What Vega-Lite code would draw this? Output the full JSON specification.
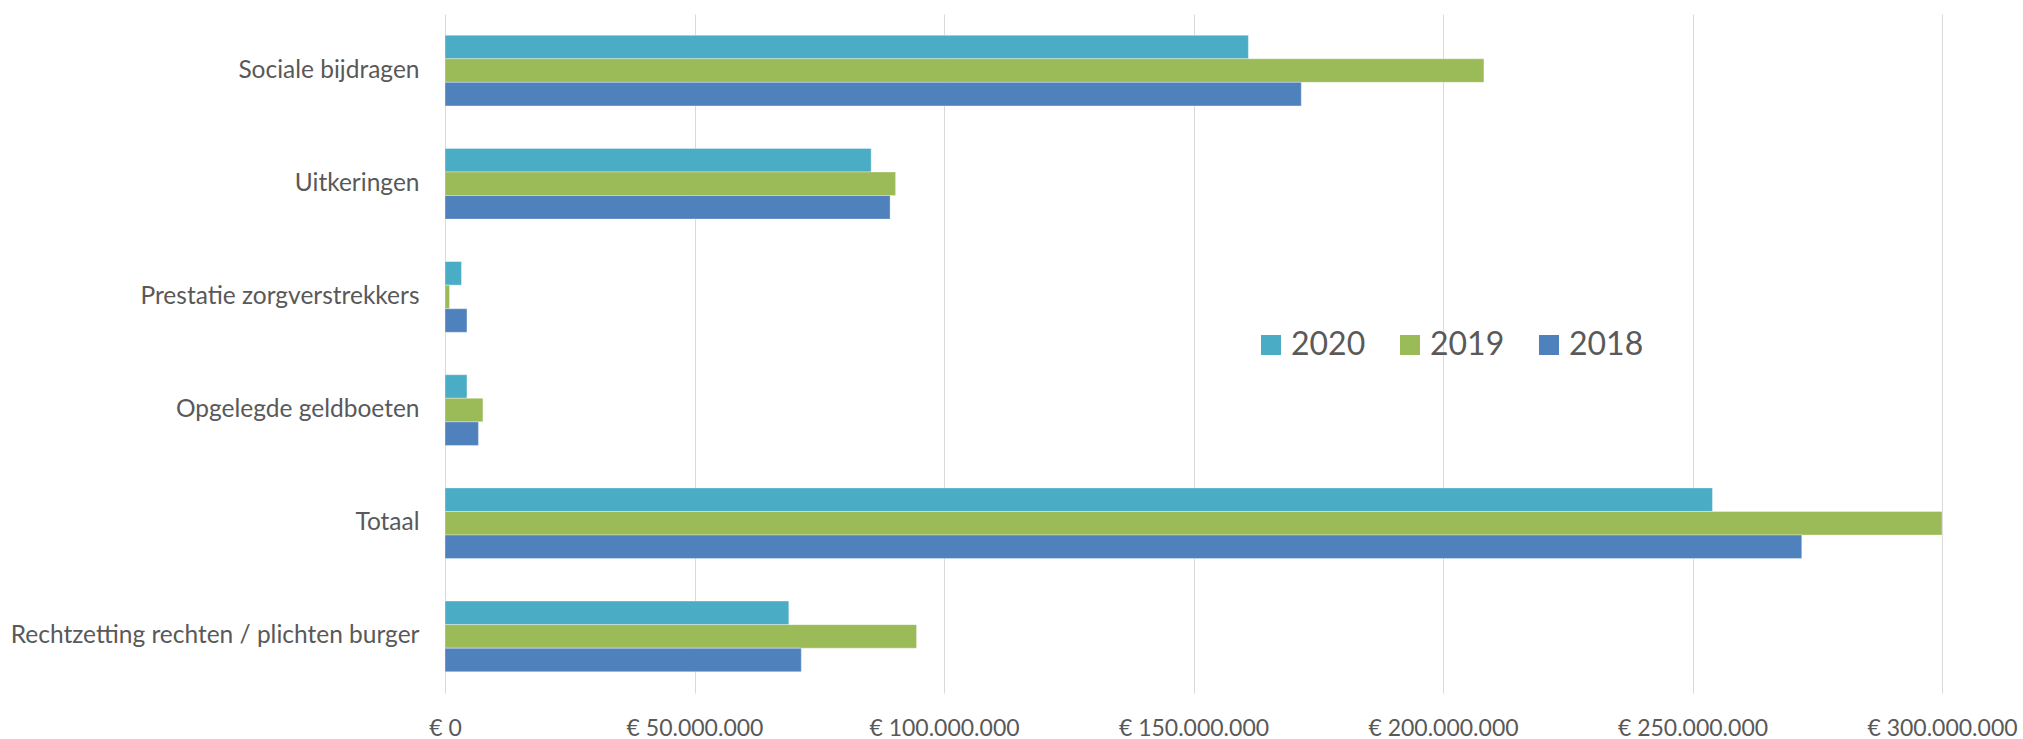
{
  "$schema": "https://vega.github.io/schema/vega-lite/v6.json",
  "width": 1497,
  "height": 679,
  "autosize": {"type": "none"},
  "padding": {"left": 445, "top": 14, "right": 81, "bottom": 46},
  "background": "#ffffff",
  "data": {
    "values": [
      {"categorie": "Sociale bijdragen", "jaar": "2020", "bedrag": 161000000},
      {"categorie": "Sociale bijdragen", "jaar": "2019", "bedrag": 208200000},
      {"categorie": "Sociale bijdragen", "jaar": "2018", "bedrag": 171600000},
      {"categorie": "Uitkeringen", "jaar": "2020", "bedrag": 85400000},
      {"categorie": "Uitkeringen", "jaar": "2019", "bedrag": 90300000},
      {"categorie": "Uitkeringen", "jaar": "2018", "bedrag": 89200000},
      {"categorie": "Prestatie zorgverstrekkers", "jaar": "2020", "bedrag": 3300000},
      {"categorie": "Prestatie zorgverstrekkers", "jaar": "2019", "bedrag": 900000},
      {"categorie": "Prestatie zorgverstrekkers", "jaar": "2018", "bedrag": 4400000},
      {"categorie": "Opgelegde geldboeten", "jaar": "2020", "bedrag": 4400000},
      {"categorie": "Opgelegde geldboeten", "jaar": "2019", "bedrag": 7600000},
      {"categorie": "Opgelegde geldboeten", "jaar": "2018", "bedrag": 6700000},
      {"categorie": "Totaal", "jaar": "2020", "bedrag": 254000000},
      {"categorie": "Totaal", "jaar": "2019", "bedrag": 300000000},
      {"categorie": "Totaal", "jaar": "2018", "bedrag": 271900000},
      {"categorie": "Rechtzetting rechten / plichten burger", "jaar": "2020", "bedrag": 68900000},
      {"categorie": "Rechtzetting rechten / plichten burger", "jaar": "2019", "bedrag": 94500000},
      {"categorie": "Rechtzetting rechten / plichten burger", "jaar": "2018", "bedrag": 71400000}
    ]
  },
  "mark": {"type": "bar", "stroke": "#ffffff", "strokeWidth": 1, "strokeOpacity": 0.35},
  "encoding": {
    "y": {
      "field": "categorie",
      "type": "nominal",
      "sort": ["Sociale bijdragen", "Uitkeringen", "Prestatie zorgverstrekkers", "Opgelegde geldboeten", "Totaal", "Rechtzetting rechten / plichten burger"],
      "scale": {"paddingInner": 0.375, "paddingOuter": 0.1875},
      "axis": {
        "title": null,
        "ticks": false,
        "domain": false,
        "labelFont": "Lato",
        "labelFontSize": 24.5,
        "labelColor": "#595959",
        "labelPadding": 26,
        "labelLimit": 500
      }
    },
    "yOffset": {
      "field": "jaar",
      "type": "nominal",
      "sort": ["2020", "2019", "2018"],
      "scale": {"paddingInner": 0, "paddingOuter": 0}
    },
    "x": {
      "field": "bedrag",
      "type": "quantitative",
      "scale": {"domain": [0, 300000000], "nice": false},
      "axis": {
        "title": null,
        "values": [0, 50000000, 100000000, 150000000, 200000000, 250000000, 300000000],
        "labelExpr": "'€ ' + replace(replace(format(datum.value, ',.0f'), ',', '.'), ',', '.')",
        "grid": true,
        "gridColor": "#d9d9d9",
        "gridWidth": 1,
        "domain": false,
        "ticks": false,
        "labelFont": "Lato",
        "labelFontSize": 23,
        "labelColor": "#595959",
        "labelPadding": 24,
        "labelFlush": false,
        "labelOverlap": false
      }
    },
    "color": {
      "field": "jaar",
      "type": "nominal",
      "scale": {"domain": ["2020", "2019", "2018"], "range": ["#4BACC6", "#9BBB59", "#4F81BD"]},
      "legend": {
        "title": null,
        "orient": "none",
        "direction": "horizontal",
        "legendX": 810,
        "legendY": 315,
        "padding": 0,
        "symbolType": "square",
        "symbolSize": 400,
        "symbolStrokeWidth": 0,
        "symbolOpacity": 1,
        "labelFont": "Lato",
        "labelFontSize": 32,
        "labelColor": "#595959",
        "labelOffset": 4,
        "columnPadding": 28
      }
    }
  },
  "config": {"view": {"stroke": null}}
}
